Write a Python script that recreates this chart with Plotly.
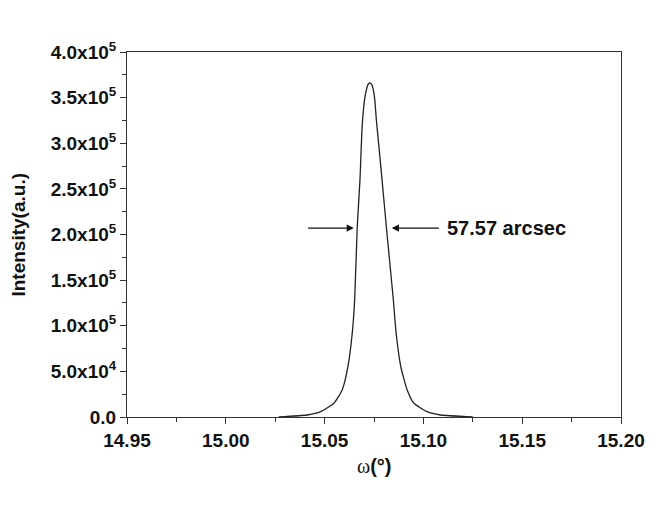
import plotly.graph_objects as go

# Rocking curve data (omega in degrees, intensity in a.u.)
omega = [15.0268, 15.0413, 15.0480, 15.0547, 15.0589, 15.0618, 15.0640,
         15.0652, 15.0665, 15.0679, 15.0690, 15.0702, 15.0712, 15.0720,
         15.0729, 15.0738, 15.0746, 15.0754, 15.0762, 15.0780, 15.0797,
         15.0813, 15.0831, 15.0848, 15.0862, 15.0886, 15.0918, 15.0951,
         15.1019, 15.1086, 15.1250]
intensity = [0, 2200, 5800, 15000, 29600, 55100, 92000,
             128200, 207100, 259900, 318200, 347600, 359000, 364500,
             366000, 364500, 359000, 347600, 325500, 285000, 245000,
             207100, 166600, 128200, 92100, 54800, 29600, 15300,
             5800, 2200, 0]

x_ticks = [14.95, 15.00, 15.05, 15.10, 15.15, 15.20]
x_ticklabels = ["14.95", "15.00", "15.05", "15.10", "15.15", "15.20"]
y_ticks = [0, 50000, 100000, 150000, 200000, 250000, 300000, 350000, 400000]
y_ticklabels = ["0.0", "5.0x10<sup>4</sup>", "1.0x10<sup>5</sup>", "1.5x10<sup>5</sup>",
                "2.0x10<sup>5</sup>", "2.5x10<sup>5</sup>", "3.0x10<sup>5</sup>",
                "3.5x10<sup>5</sup>", "4.0x10<sup>5</sup>"]

fwhm_label = "57.57 arcsec"
arrow_y = 207000
left_arrow = (15.0409, 15.0648)   # tail, head
right_arrow = (15.1086, 15.0840)  # tail, head
label_x = 15.1108

font = "Liberation Sans, Arial, sans-serif"
ink = "#111111"

fig = go.Figure()
fig.add_trace(go.Scatter(x=omega, y=intensity, mode="lines",
                         line=dict(color="#222222", width=1.3, shape="spline", smoothing=0.5),
                         showlegend=False, hoverinfo="skip"))

for tail, head in (left_arrow, right_arrow):
    fig.add_annotation(x=head, y=arrow_y, ax=tail, ay=arrow_y,
                       xref="x", yref="y", axref="x", ayref="y",
                       showarrow=True, arrowhead=2, arrowsize=1.1, arrowwidth=1.3,
                       arrowcolor=ink, text="")

fig.add_annotation(x=label_x, y=arrow_y, xref="x", yref="y", text="<b>" + fwhm_label + "</b>",
                   showarrow=False, xanchor="left", yanchor="middle",
                   font=dict(family=font, size=20, color=ink))

# axis titles
fig.add_annotation(x=-0.2206, y=0.5, xref="paper", yref="paper", text="<b>Intensity(a.u.)</b>",
                   showarrow=False, textangle=-90, xanchor="center", yanchor="middle",
                   font=dict(family=font, size=19, color=ink))
fig.add_annotation(x=0.5, y=-0.134, xref="paper", yref="paper",
                   text="<span style='font-family:Liberation Serif'>ω</span><b>(°)</b>",
                   showarrow=False, xanchor="center", yanchor="middle",
                   font=dict(family=font, size=20, color=ink))

fig.update_xaxes(range=[14.95, 15.20], tickvals=x_ticks, ticktext=["<b>%s</b>" % t for t in x_ticklabels],
                 ticks="outside", ticklen=6, tickwidth=1, tickcolor="#333",
                 minor=dict(dtick=0.025, tick0=14.95, ticks="outside", ticklen=4, tickcolor="#333", showgrid=False),
                 showline=True, linecolor="#333", linewidth=1, mirror=True,
                 showgrid=False, zeroline=False,
                 tickfont=dict(family=font, size=19, color=ink))
fig.update_yaxes(range=[0, 400000], tickvals=y_ticks, ticktext=["<b>%s</b>" % t for t in y_ticklabels],
                 ticks="outside", ticklen=6, tickwidth=1, tickcolor="#333",
                 minor=dict(dtick=25000, tick0=0, ticks="outside", ticklen=4, tickcolor="#333", showgrid=False),
                 showline=True, linecolor="#333", linewidth=1, mirror=True,
                 showgrid=False, zeroline=False,
                 tickfont=dict(family=font, size=19, color=ink))

fig.update_layout(width=668, height=509, margin=dict(l=119, r=55, t=44, b=100),
                  plot_bgcolor="white", paper_bgcolor="white")

fig.write_html("out.html")
